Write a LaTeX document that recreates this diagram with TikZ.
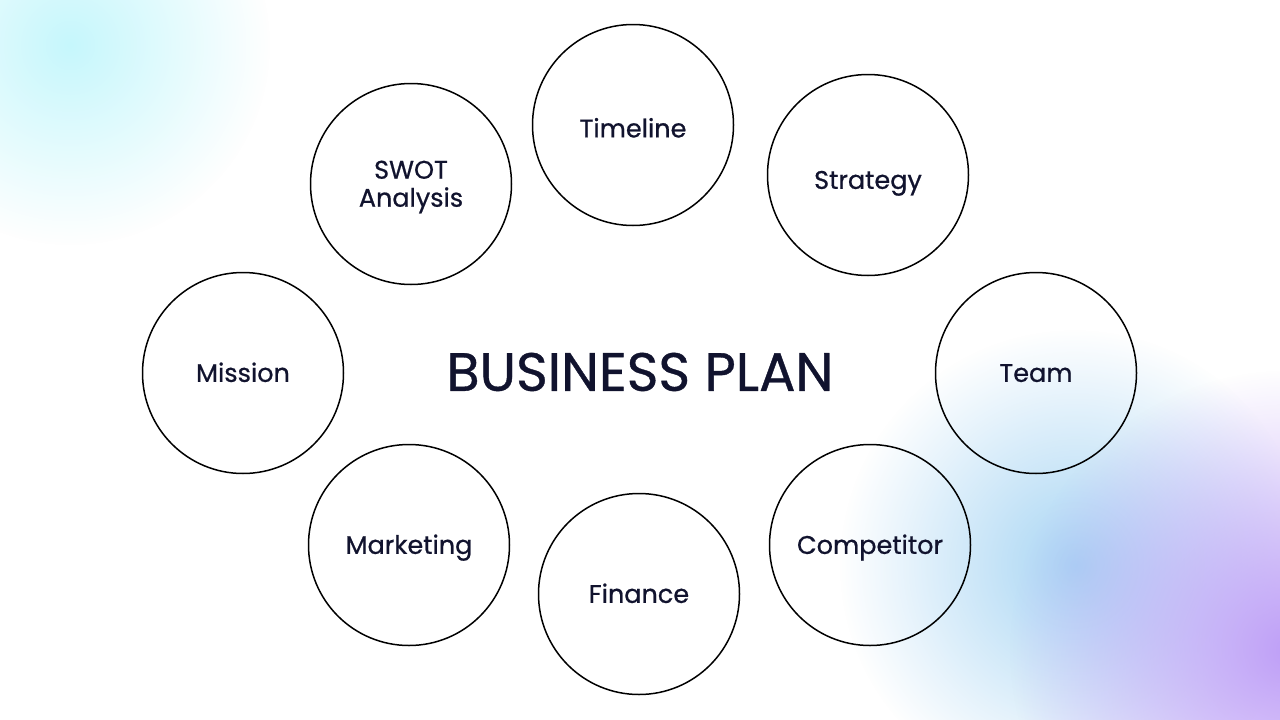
\documentclass[tikz,border=0pt]{standalone}
\usepackage{fontspec}
\setmainfont{Poppins}
\newfontfamily\medfont{Poppins}[FakeBold=0.7]
\usetikzlibrary{fadings}
\definecolor{inkblue}{HTML}{11132E}
\definecolor{blobcyan}{HTML}{C6F7FC}
\definecolor{blobblue}{HTML}{A9D6F4}
\definecolor{blobpurple}{HTML}{BE9EF7}
\tikzfading[name=blobfade, inner color=transparent!0, outer color=transparent!100]
\tikzset{
	bubble/.style={draw=black, line width=1.5pt, circle, minimum size=201pt, inner sep=0pt},
	tagtext/.style={align=center, text=inkblue, inner sep=0pt, font=\medfont\fontsize{25.5}{28}\selectfont},
	tag/.style={tagtext, text height=17.8pt, text depth=0pt},
	blob/.style={path fading=blobfade, draw=none}
}

\begin{document}
\begin{tikzpicture}[x=1pt, y=-1pt]
				%%%%% START %%%%%
				\useasboundingbox (0, 0) rectangle (1280, 720);
				\fill[white] (0, 0) rectangle (1280, 720);
				
				\begin{scope}
				\clip (0, 0) rectangle (1280, 720);
				\fill[blobcyan, blob] (70, 45) circle (200);
				\fill[blobblue, blob] (1075, 565) circle (235);
				\fill[blobpurple, blob] (1290, 650) circle (280);
				\end{scope}
				
				\node[bubble, label={[tag, yshift=-3.5pt]center:Timeline}] (timeline) at (633, 125) {};
				\node[bubble, label={[tag, yshift=-5pt]center:Strategy}] (strategy) at (868, 175) {};
				\node[bubble, label={[tagtext, yshift=-3pt]center:SWOT\\Analysis}] (swot) at (411, 184) {};
				\node[bubble, label={[tag]center:Mission}] (mission) at (243, 373) {};
				\node[bubble, label={[tag]center:Team}] (team) at (1036, 373) {};
				\node[bubble, label={[tag]center:Marketing}] (marketing) at (409, 545) {};
				\node[bubble, label={[tag]center:Finance}] (finance) at (639, 594) {};
				\node[bubble, label={[tag]center:Competitor}] (competitor) at (870, 545) {};
				
				\node[tag, text height=37.7pt, font=\medfont\fontsize{54}{58}\selectfont] (plan) at (640, 372) {BUSINESS PLAN};
				%%%%% END %%%%%
\end{tikzpicture}
\end{document}
